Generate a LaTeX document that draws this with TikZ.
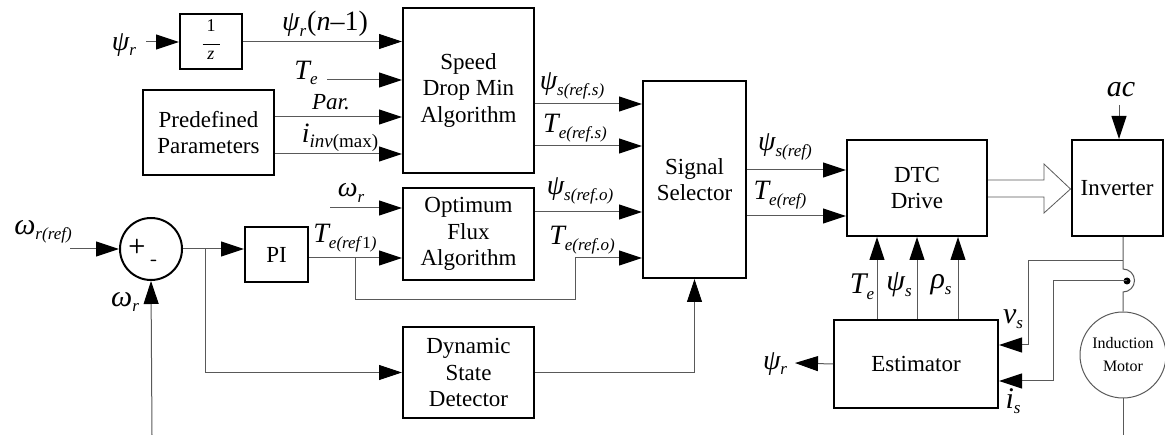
\documentclass[tikz,border=0pt]{standalone}
\usepackage{fontspec}
\setmainfont{Liberation Serif}
\usetikzlibrary{arrows.meta}
\usetikzlibrary{positioning}
\usetikzlibrary{calc}

\newcommand{\sub}[1]{\raisebox{-5.5pt}{\fontsize{17}{17}\selectfont #1}}

\begin{document}
\begin{tikzpicture}
    [x=1pt, y=-1pt,
    block/.style={draw, line width=2pt, inner sep=0pt, align=center, font=\fontsize{23}{26.5}\selectfont},
    link/.style={draw=black!65, line width=1pt},
    tip/.style={-{Triangle[length=23pt, width=15pt, color=black]}},
    lab/.style={inner sep=0pt, font=\fontsize{28}{28}\selectfont\itshape},
    ]
    \useasboundingbox (0,0) rectangle (1165,435);

    % blocks
    \node[block, minimum width=62pt, minimum height=55pt] (delay) at (211,41.5)
        {\fontsize{18}{18}\selectfont\begin{tabular}{@{}c@{}}1\\[-4pt]\rule{17pt}{0.8pt}\\[-4pt]\textit{z}\end{tabular}};
    \node[block, minimum width=131pt, minimum height=165pt] (speed) at (468.5,90.5) {Speed\\Drop Min\\Algorithm};
    \node[block, minimum width=131pt, minimum height=85pt] (pre) at (208.5,132.5) {Predefined\\Parameters};
    \node[block, minimum width=131pt, minimum height=92pt] (opt) at (468.5,234) {Optimum\\Flux\\Algorithm};
    \node[block, minimum width=131pt, minimum height=91pt] (dsd) at (468.5,372.5) {Dynamic\\State\\Detector};
    \node[block, minimum width=103pt, minimum height=197pt] (sel) at (694.5,179.5) {Signal\\Selector};
    \node[block, minimum width=63pt, minimum height=55pt] (pi) at (276.5,254.5) {PI};
    \node[block, circle, minimum size=62pt] (sum) at (151,249) {};
    \node[inner sep=0pt, font=\sffamily\bfseries\fontsize{20}{20}\selectfont] (plus) at (137,247) {+};
    \node[inner sep=0pt, font=\sffamily\bfseries\fontsize{20}{20}\selectfont] (minus) at (154,263) {-};
    \node[block, minimum width=140pt, minimum height=96pt] (dtc) at (917,188) {DTC\\Drive};
    \node[block, minimum width=91pt, minimum height=96pt] (inv) at (1117,188) {Inverter};
    \node[block, minimum width=164pt, minimum height=88pt] (est) at (916,364) {Estimator};
    \node[circle, draw=black!65, line width=1pt, minimum size=86pt, align=center, font=\fontsize{16}{23}\selectfont] (motor) at (1123,355) {Induction\\Motor};
    \node[circle, fill=black, inner sep=0pt, minimum size=7pt] (itap) at (1127,281) {};

    % free ends
    \coordinate (psirin) at (146,42);
    \coordinate (tein) at (327,80);
    \coordinate (wrin) at (330,208);
    \coordinate (wrref) at (70,249);
    \coordinate (wrfb) at (152,435);
    \coordinate (br1) at (355,258);
    \coordinate (br2) at (205,249);
    \coordinate (psirout) at (795,363);
    \coordinate (vtap) at (1123,261);
    \coordinate (acin) at (1119,105);

    % labels
    \node[lab] (lpsir) at (124,45) {ψ\sub{r}};
    \node[lab] (lpsirn) at (325,24) {ψ\sub{r}\kern1pt\textup{(}n\textup{–1)}};
    \node[lab] (lte) at (306,73) {T\sub{e}};
    \node[lab, font=\fontsize{23}{23}\selectfont\itshape] (lpar) at (331,102) {Par.};
    \node[lab] (limax) at (340,138) {i\raisebox{-5.5pt}{\fontsize{19}{19}\selectfont inv\textup{(max)}}};
    \node[lab] (lpsiss) at (572,86) {ψ\sub{s(ref.s)}};
    \node[lab] (ltess) at (575,128) {T\sub{e(ref.s)}};
    \node[lab] (lpsiso) at (580,191) {ψ\sub{s(ref.o)}};
    \node[lab] (lteso) at (582,240) {T\sub{e(ref.o)}};
    \node[lab] (lteref1) at (345,238) {T\sub{e(ref\textup{1})}};
    \node[lab] (lwr) at (351,193) {ω\sub{r}};
    \node[lab, font=\fontsize{30}{30}\selectfont\itshape] (lwrref) at (43,232) {ω\sub{r(ref)}};
    \node[lab, font=\fontsize{30}{30}\selectfont\itshape] (lwrfb) at (125,302) {ω\sub{r}};
    \node[lab] (lpsisref) at (785,147) {ψ\sub{s(ref)}};
    \node[lab] (lteref) at (780,195) {T\sub{e(ref)}};
    \node[lab, font=\fontsize{30}{30}\selectfont\itshape] (lteest) at (862,287) {T\sub{e}};
    \node[lab, font=\fontsize{30}{30}\selectfont\itshape] (lpsis) at (899,285) {ψ\sub{s}};
    \node[lab, font=\fontsize{30}{30}\selectfont\itshape] (lrhos) at (941,285) {ρ\sub{s}};
    \node[lab, font=\fontsize{30}{30}\selectfont\itshape] (lvs) at (1013,319) {v\sub{s}};
    \node[lab, font=\fontsize{30}{30}\selectfont\itshape] (lis) at (1013,401) {i\sub{s}};
    \node[lab] (lpsirout) at (775,364) {ψ\sub{r}};
    \node[lab, font=\fontsize{30}{30}\selectfont\itshape] (lac) at (1121,90) {ac};

    % speed drop min inputs
    \draw[link, tip] (psirin) -- (psirin -| delay.west);
    \draw[link, tip] (delay.east) -- (delay.east -| speed.west);
    \draw[link, tip] (tein) -- (tein -| speed.west);
    \draw[link, tip] (pre.east |- 0,117) -- (speed.west |- 0,117);
    \draw[link, tip] (pre.east |- 0,154) -- (speed.west |- 0,154);
    % selector inputs
    \draw[link, tip] (speed.east |- 0,104) -- (sel.west |- 0,104);
    \draw[link, tip] (speed.east |- 0,146) -- (sel.west |- 0,146);
    \draw[link, tip] (opt.east |- 0,212) -- (sel.west |- 0,212);
    \draw[link, tip] (br1) |- (575,300) |- (sel.west |- 0,258);
    \draw[link, tip] (dsd.east) -| (sel.south);
    % speed loop
    \draw[link, tip] (wrref) -- (sum.west);
    \draw[link, tip] (wrfb) -- (sum.south);
    \draw[link, tip] (sum.east) -- (sum.east -| pi.west);
    \draw[link, tip] (br2) |- (dsd.west);
    \draw[link, tip] (pi.east |- 0,258) -- (opt.west |- 0,258);
    \draw[link, tip] (wrin) -- (wrin -| opt.west);
    % dtc
    \draw[link, tip] (sel.east |- 0,170) -- (dtc.west |- 0,170);
    \draw[link, tip] (sel.east |- 0,216) -- (dtc.west |- 0,216);
    \foreach \x in {877,917,958}
        \draw[link, tip] (\x,0 |- est.north) -- (\x,0 |- dtc.south);
    \draw[link, tip] (est.west) -- (psirout);
    \draw[black!65, line width=0.8pt] (dtc.east |- 0,180) -- (1044,180) -- (1044,164) -- (inv.west |- 0,189)
        -- (1044,213) -- (1044,197) -- (dtc.east |- 0,197);
    \draw[link, tip] (acin) -- (acin |- inv.north);
    % motor side
    \draw[link] (motor.north |- inv.south) -- (1123,269) arc[start angle=90, end angle=-90, radius=11.5pt] -- (motor.north);
    \draw[link] (motor.south) -- (motor.south |- 0,435);
    \draw[link, tip] (vtap) -| (1028,345) -- (est.east |- 0,345);
    \draw[link, tip] (itap.center) -| (1053,381) -- (est.east |- 0,381);
\end{tikzpicture}
\end{document}
